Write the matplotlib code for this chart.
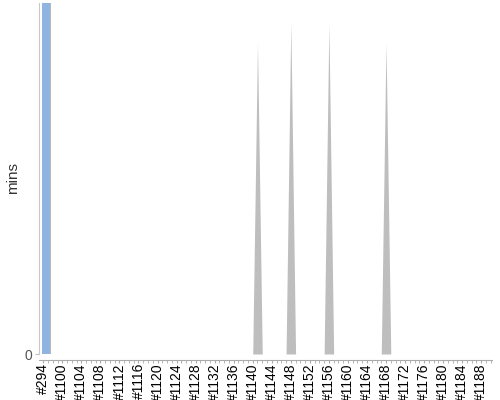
import matplotlib
matplotlib.use("Agg")
import matplotlib.pyplot as plt
import numpy as np

plt.rcParams['font.family'] = ['Liberation Sans', 'DejaVu Sans']

# Build categories (x axis)
categories = ["#294"] + ["#%d" % n for n in range(1097, 1191)]

# Series values (minutes)
blue_builds = ["#294"]
blue_values = [40.0]

gray_builds = ["#1141", "#1148", "#1156", "#1168"]
gray_values = [31.4, 33.4, 33.3, 31.4]

idx = {c: i for i, c in enumerate(categories)}
x = np.arange(len(categories))
gray_series = np.zeros(len(categories))
for b, v in zip(gray_builds, gray_values):
    gray_series[idx[b]] = v

fig = plt.figure(figsize=(5, 4), dpi=100)
ax = fig.add_axes([0.078, 0.115, 0.9054, 0.8775])

ax.fill_between(x, 0, gray_series, color="#bebebe", linewidth=0, zorder=2)
for b, v in zip(blue_builds, blue_values):
    ax.bar(idx[b] + 0.55, v, width=1.65, color="#8fb4e0", edgecolor="none", zorder=3)
    ax.bar(idx[b] + 1.48, v, width=0.2, color="#b8b8b8", edgecolor="none", zorder=3)

ax.set_xlim(-0.9, 94.2)
ax.set_ylim(0, 35.4)

ax.set_yticks([0])
ax.set_yticklabels(["0"], fontsize=10, color="#555555")
ax.tick_params(axis='y', length=3, color="#c0c0c0", pad=2)

major = list(range(0, len(categories), 4))
ax.set_xticks(major)
ax.set_xticklabels([categories[i] for i in major], fontsize=6.3, color="#000000")
ax.set_xticks(x, minor=True)
ax.tick_params(axis='x', which='both', length=2, color="#aaaaaa", pad=0.5)
ax.tick_params(axis='x', which='major', labelrotation=90)

for s in ['top', 'right']:
    ax.spines[s].set_visible(False)
ax.spines['left'].set_color("#c8c8c8")
ax.spines['bottom'].set_color("#aaaaaa")
ax.spines['bottom'].set_position(('outward', 4))

ax.set_ylabel("mins", fontsize=11, color="#333333")
ax.yaxis.set_label_coords(-0.042, 0.5)

fig.savefig("out.png", dpi=100)
